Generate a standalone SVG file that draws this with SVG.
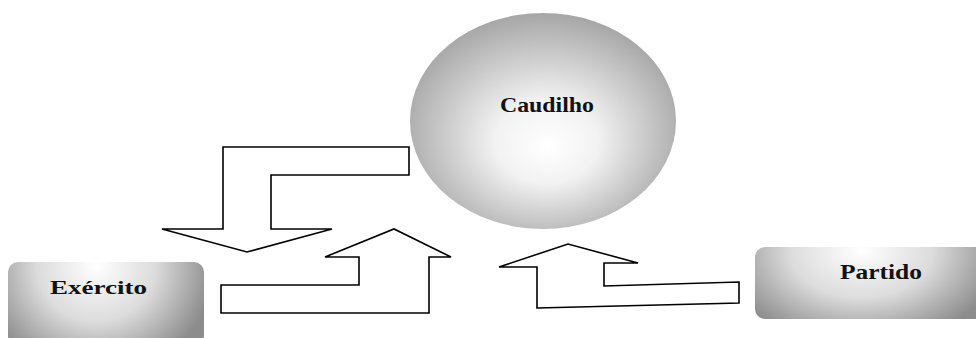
<svg xmlns="http://www.w3.org/2000/svg" width="976" height="338" viewBox="0 0 976 338">
  <defs>
    <radialGradient id="gOval" cx="0.5" cy="0.55" r="0.55" fx="0.52" fy="0.62">
      <stop offset="0" stop-color="#ffffff"/>
      <stop offset="0.35" stop-color="#f2f2f2"/>
      <stop offset="1" stop-color="#a6a6a6"/>
    </radialGradient>
    <radialGradient id="gBox" cx="0.45" cy="0.05" r="0.6" gradientTransform="translate(0.45 0.05) scale(1 2.2) translate(-0.45 -0.05)">
      <stop offset="0" stop-color="#ffffff"/>
      <stop offset="0.5" stop-color="#dcdcdc"/>
      <stop offset="1" stop-color="#8c8c8c"/>
    </radialGradient>
    <style>
      .lbl { font-family: "Liberation Serif", "Times New Roman", serif; font-weight: bold; fill: #111; }
      .arrow { fill: #ffffff; stroke: #000; stroke-width: 1.6; stroke-linejoin: miter; }
    </style>
  </defs>
  <rect width="976" height="338" fill="#ffffff"/>

  <g id="caudilho">
    <ellipse cx="543" cy="121" rx="133" ry="108" fill="url(#gOval)"/>
    <text class="lbl" x="500" y="112" font-size="22" textLength="94" lengthAdjust="spacingAndGlyphs">Caudilho</text>
  </g>

  <g id="exercito">
    <rect x="8" y="262" width="196" height="84" rx="10" fill="url(#gBox)"/>
    <text class="lbl" x="50" y="294" font-size="19" textLength="97" lengthAdjust="spacingAndGlyphs">Exército</text>
  </g>

  <g id="partido">
    <rect x="755" y="247" width="236" height="72" rx="10" fill="url(#gBox)"/>
    <text class="lbl" x="840" y="279" font-size="21" textLength="82" lengthAdjust="spacingAndGlyphs">Partido</text>
  </g>

  <g id="connectors">
    <!-- Caudilho down to Exército -->
    <polygon class="arrow" points="223,147 409,147 409,175 271,175 271,229 332,229 247,252 162,229 223,229"/>
    <!-- Exército up to Caudilho -->
    <polygon class="arrow" points="221,313 429,313 429,257 451,257 394,229 325,257 359,257 359,285 221,285"/>
    <!-- Partido up to Caudilho -->
    <polygon class="arrow" points="537,308 739,303 739,282 604,286 604,263 638,263 568,244 499,267 537,267"/>
  </g>
</svg>
